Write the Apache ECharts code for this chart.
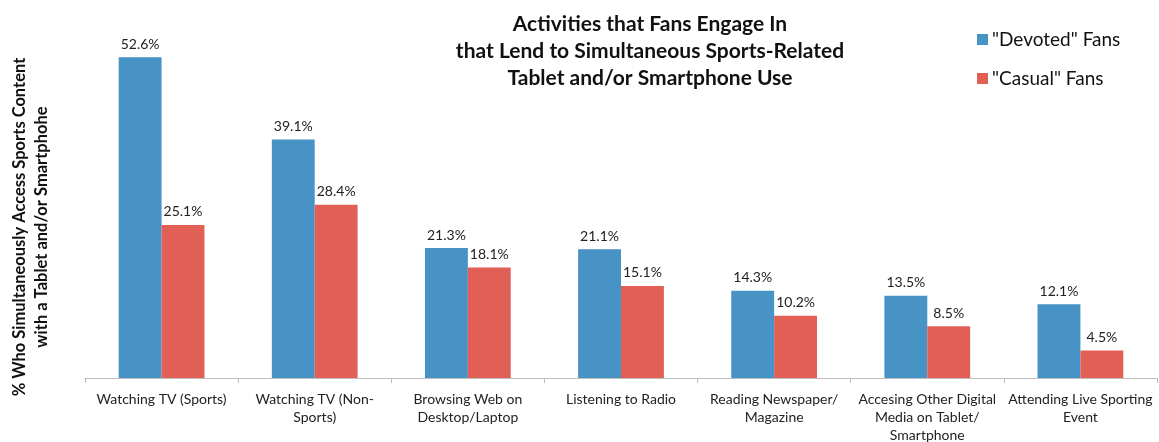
<!DOCTYPE html>
<html>
<head>
<meta charset="utf-8">
<script src="https://cdn.jsdelivr.net/npm/echarts@6/dist/echarts.min.js"></script>
<style>
html,body{margin:0;padding:0;background:#fff;}
#c{width:1159px;height:442px;}
</style>
</head>
<body>
<div id="c"></div>
<script>
var categories = [
  "Watching TV (Sports)",
  "Watching TV (Non-\nSports)",
  "Browsing Web on\nDesktop/Laptop",
  "Listening to Radio",
  "Reading Newspaper/\nMagazine",
  "Accesing Other Digital\nMedia on Tablet/\nSmartphone",
  "Attending Live Sporting\nEvent"
];
var devoted = [52.6, 39.1, 21.3, 21.1, 14.3, 13.5, 12.1];
var casual = [25.1, 28.4, 18.1, 15.1, 10.2, 8.5, 4.5];
var seriesNames = ['"Devoted" Fans', '"Casual" Fans'];
var titleText = "Activities that Fans Engage In\nthat Lend to Simultaneous Sports-Related\nTablet and/or Smartphone Use";
var yName = "% Who Simultaneously Access Sports Content\nwith a Tablet and/or Smartphohe";

var FONT = "Lato";
var chart = echarts.init(document.getElementById('c'), null, {renderer: 'canvas'});
var labelCfg = {
  show: true, position: 'top', distance: 6,
  fontFamily: FONT, fontSize: 14, color: '#222',
  formatter: function (p) { return p.value.toFixed(1) + '%'; }
};
chart.setOption({
  animation: false,
  textStyle: {fontFamily: FONT},
  title: {
    text: titleText,
    left: 645, top: 6, textAlign: 'center',
    textStyle: {fontFamily: FONT, fontSize: 21, fontWeight: 'bold', color: '#111', lineHeight: 27}
  },
  legend: {
    orient: 'vertical', left: 972, top: 25, itemGap: 20,
    itemWidth: 11, itemHeight: 11, icon: 'rect',
    textStyle: {fontFamily: FONT, fontSize: 19, color: '#111', padding: [0, 0, 0, -1]},
    data: seriesNames
  },
  graphic: [{
    type: 'text', x: 31, y: 227, rotation: Math.PI / 2, silent: true,
    style: {
      text: yName, fontFamily: FONT, fontSize: 16.5, fontWeight: 'bold', fill: '#111',
      lineHeight: 22, align: 'center', verticalAlign: 'middle'
    }
  }],
  grid: {left: 85, right: 2, top: 12, bottom: 64, containLabel: false, outerBoundsMode: 'none'},
  xAxis: {
    type: 'category', data: categories,
    axisLine: {lineStyle: {color: '#bdbdbd', width: 1}},
    axisTick: {show: true, length: 5, lineStyle: {color: '#bdbdbd'}},
    axisLabel: {interval: 0, fontFamily: FONT, fontSize: 14, color: '#222', lineHeight: 18, margin: 12}
  },
  yAxis: {
    type: 'value', min: 0, max: 60,
    axisLine: {show: false}, axisTick: {show: false}, axisLabel: {show: false},
    splitLine: {show: false}
  },
  series: [
    {name: seriesNames[0], type: 'bar', data: devoted, barGap: '0%', barCategoryGap: '44%',
     itemStyle: {color: '#4793c5'}, label: labelCfg},
    {name: seriesNames[1], type: 'bar', data: casual,
     itemStyle: {color: '#e25f56'}, label: labelCfg}
  ]
});
</script>
</body>
</html>
